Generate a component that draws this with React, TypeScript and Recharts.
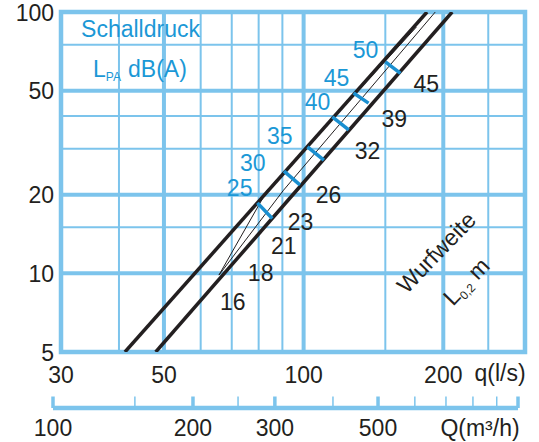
import React from 'react';
import { LineChart, Line, XAxis, YAxis, CartesianGrid, ReferenceArea, ReferenceDot } from 'recharts';

const GRID = '#7cc4ec';
const BLUE = '#1b98d6';
const MARK = '#1a8fd0';
const BLACK = '#231f20';
const FONT = '"Liberation Sans", Arial, Helvetica, sans-serif';
const FS = 23;

// q (l/s) axis
const qTicks = [30, 50, 100, 200];
const qGridMajor = [50, 100, 200];
const qGridMinor = [40, 60, 70, 80, 90, 150, 250];
// vertical axis
const yTicks = [5, 10, 20, 50, 100];
const yGridMajor = [10, 20, 50];
const yGridMinor = [15, 30, 40, 75];
// Q (m3/h) axis
const QTicksAll = [100, 150, 200, 250, 300, 400, 500, 600, 700, 800, 900, 1000];
const QTicksMajor = [100, 200, 300, 500, 1000];
const QLabels = [100, 200, 300, 500];

// characteristic lines
const upperLine = [{ q: 41.2, v: 5 }, { q: 184.5, v: 100 }];
const lowerLine = [{ q: 48, v: 5 }, { q: 209, v: 100 }];
const thinLineA = [{ q: 65.7, v: 9.85 }, { q: 83.5, v: 20.8 }, { q: 175, v: 87.6 }];
const thinLineB = [{ q: 65.7, v: 9.85 }, { q: 90.5, v: 20.8 }, { q: 192.2, v: 100 }];

// sound pressure marks (from upper line to lower line)
const soundMarks = [
  { level: 25, q1: 79.5, v1: 18.6, q2: 85.6, v2: 16.2 },
  { level: 30, q1: 90.7, v1: 24.6, q2: 98.2, v2: 21.8 },
  { level: 35, q1: 101.9, v1: 30.5, q2: 110.6, v2: 27.1 },
  { level: 40, q1: 115.3, v1: 39.7, q2: 125.1, v2: 35.4 },
  { level: 45, q1: 128.1, v1: 49.0, q2: 138, v2: 44.8 },
  { level: 50, q1: 150.1, v1: 64.5, q2: 161.7, v2: 58.2 },
];
const soundLabels = [
  { text: '25', q: 72.8, v: 21.2 },
  { text: '30', q: 77.7, v: 26.4 },
  { text: '35', q: 88.8, v: 33.5 },
  { text: '40', q: 107.2, v: 45.2 },
  { text: '45', q: 117.7, v: 55.9 },
  { text: '50', q: 135.9, v: 71.5 },
];
// throw distance labels
const throwLabels = [
  { text: '16', q: 70.4, v: 7.77 },
  { text: '18', q: 80.8, v: 10.0 },
  { text: '21', q: 90.6, v: 12.7 },
  { text: '23', q: 98.5, v: 15.7 },
  { text: '26', q: 113.2, v: 19.9 },
  { text: '32', q: 137.3, v: 29.4 },
  { text: '39', q: 156.9, v: 38.9 },
  { text: '45', q: 183.9, v: 53.0 },
];

const XTick = (props: any) => {
  const { x, y, payload } = props;
  return (
    <text x={x} y={y + 31} textAnchor="middle" fontSize={FS} fontFamily={FONT} fill={BLACK}>
      {payload.value}
    </text>
  );
};

const YTick = (props: any) => {
  const { x, y, payload } = props;
  return (
    <text x={x - 7} y={y + 8.5} textAnchor="end" fontSize={FS} fontFamily={FONT} fill={BLACK}>
      {payload.value}
    </text>
  );
};

const QTick = (props: any) => {
  const { x, y, payload } = props;
  const major = QTicksMajor.includes(payload.value);
  return (
    <g>
      <line x1={x} x2={x} y1={y} y2={y - 11.5} stroke={GRID} strokeWidth={major ? 3.5 : 1.5} />
      {QLabels.includes(payload.value) && (
        <text x={x} y={y + 28} textAnchor="middle" fontSize={FS} fontFamily={FONT} fill={BLACK}>
          {payload.value}
        </text>
      )}
    </g>
  );
};

export default function App() {
  return (
    <div style={{ position: 'absolute', left: 0, top: 0, width: 539, height: 442, background: '#fff' }}>
      <div style={{ position: 'absolute', left: 0, top: 0 }}>
        <LineChart width={539} height={442} margin={{ top: 12, right: 14, left: 0, bottom: 0 }}>
          <CartesianGrid verticalValues={qGridMinor} horizontalValues={yGridMinor} stroke={GRID} strokeWidth={2} fill="none" />
          <CartesianGrid verticalValues={qGridMajor} horizontalValues={yGridMajor} stroke={GRID} strokeWidth={4} fill="none" />
          <XAxis
            dataKey="q"
            type="number"
            scale="log"
            domain={[30, 300]}
            allowDataOverflow
            ticks={qTicks}
            interval={0}
            axisLine={false}
            tickLine={false}
            tickSize={0}
            tickMargin={0}
            height={90}
            tick={<XTick />}
          />
          <YAxis
            dataKey="v"
            type="number"
            scale="log"
            domain={[5, 100]}
            allowDataOverflow
            ticks={yTicks}
            interval={0}
            axisLine={false}
            tickLine={false}
            tickSize={0}
            tickMargin={0}
            width={61}
            tick={<YTick />}
          />
          <ReferenceArea x1={30} x2={300} y1={5} y2={100} fill="none" stroke={GRID} strokeWidth={4.5} ifOverflow="visible" />
          <Line data={thinLineA} dataKey="v" stroke={BLACK} strokeWidth={1} dot={false} isAnimationActive={false} />
          <Line data={thinLineB} dataKey="v" stroke={BLACK} strokeWidth={1} dot={false} isAnimationActive={false} />
          <Line data={upperLine} dataKey="v" stroke={BLACK} strokeWidth={3.5} dot={false} isAnimationActive={false} />
          <Line data={lowerLine} dataKey="v" stroke={BLACK} strokeWidth={3.5} dot={false} isAnimationActive={false} />
          {soundMarks.map((m) => (
            <Line
              key={'m' + m.level}
              data={[{ q: m.q1, v: m.v1 }, { q: m.q2, v: m.v2 }]}
              dataKey="v"
              stroke={MARK}
              strokeWidth={3.5}
              dot={false}
              isAnimationActive={false}
            />
          ))}
          {soundLabels.map((l) => (
            <ReferenceDot
              key={'s' + l.text}
              x={l.q}
              y={l.v}
              r={0}
              fill="none"
              stroke="none"
              label={{ value: l.text, position: 'center', fill: BLUE, fontSize: FS, fontFamily: FONT }}
            />
          ))}
          {throwLabels.map((l) => (
            <ReferenceDot
              key={'t' + l.text}
              x={l.q}
              y={l.v}
              r={0}
              fill="none"
              stroke="none"
              label={{ value: l.text, position: 'center', fill: BLACK, fontSize: FS, fontFamily: FONT }}
            />
          ))}
        </LineChart>
      </div>
      <div style={{ position: 'absolute', left: 0, top: 0 }}>
        <LineChart width={539} height={442} margin={{ top: 380, right: 21, left: 53, bottom: 0 }}>
          <XAxis
            dataKey="Q"
            type="number"
            scale="log"
            domain={[100, 1000]}
            allowDataOverflow
            ticks={QTicksAll}
            interval={0}
            axisLine={{ stroke: GRID, strokeWidth: 4.5 }}
            tickLine={false}
            tickSize={0}
            tickMargin={0}
            height={34}
            tick={<QTick />}
          />
          <YAxis hide domain={[0, 1]} />
        </LineChart>
      </div>
      <svg width={539} height={442} style={{ position: 'absolute', left: 0, top: 0, pointerEvents: 'none' }} fontFamily={FONT}>
        <text x={140.5} y={37} textAnchor="middle" fontSize={FS} fill={BLUE}>Schalldruck</text>
        <text x={93} y={77} fontSize={FS} fill={BLUE}>
          L<tspan fontSize={12} dy={4}>PA</tspan>
          <tspan x={128} dy={-4}>dB(A)</tspan>
        </text>
        <text x={442} y={258} textAnchor="middle" fontSize={FS} fill={BLACK} transform="rotate(-46 442 258)">Wurfweite</text>
        <text x={472} y={287} textAnchor="middle" fontSize={FS} fill={BLACK} transform="rotate(-46 472 287)">
          L<tspan fontSize={12} dy={4}>0,2</tspan>
          <tspan dy={-4}> m</tspan>
        </text>
        <text x={500} y={381} textAnchor="middle" fontSize={FS} fill={BLACK}>q(l/s)</text>
        <text x={480} y={436} textAnchor="middle" fontSize={FS} fill={BLACK}>Q(m³/h)</text>
      </svg>
    </div>
  );
}
